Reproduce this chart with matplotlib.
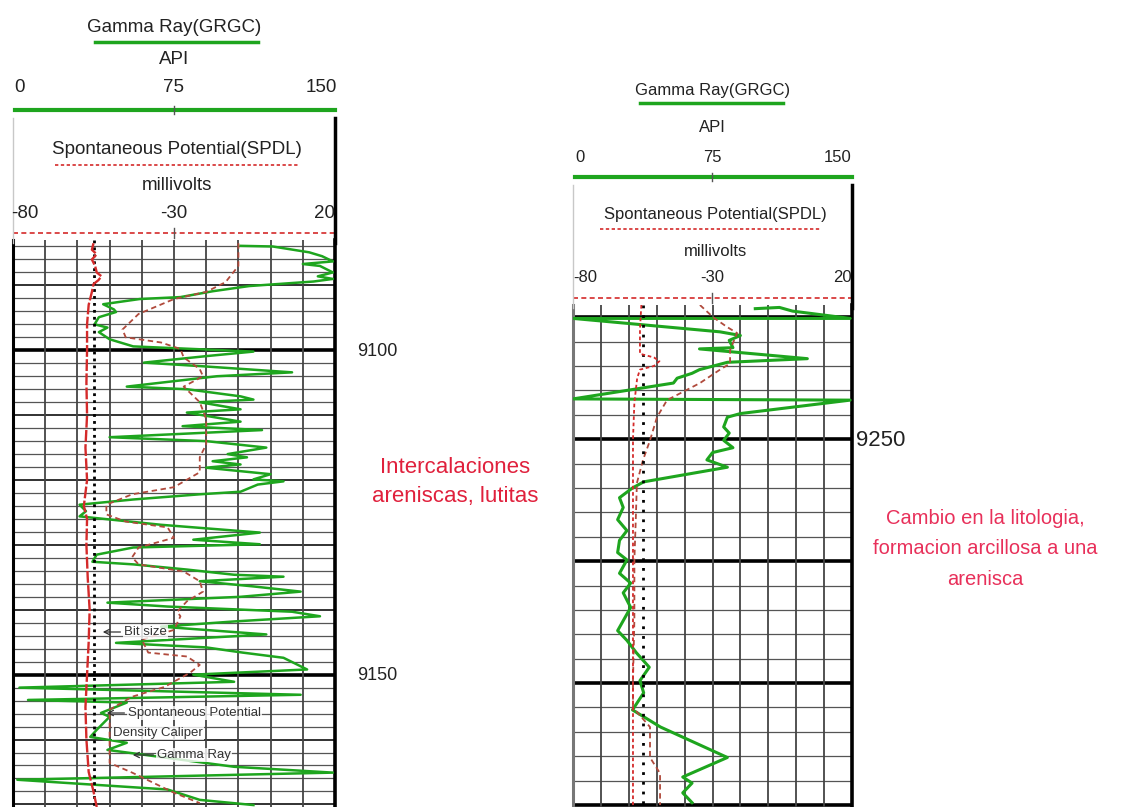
import matplotlib.pyplot as plt
import numpy as np

# ---------------- data read off the log ----------------
# left track, gamma ray (API) vs depth (ft)
gr_left_depth = [9083.9, 9084.0, 9084.9, 9085.5, 9086.3, 9086.7, 9087.0, 9088.0, 9088.6, 9089.0,
                 9089.4, 9090.1, 9090.9, 9091.8, 9092.1, 9092.9, 9093.7, 9094.1, 9094.9, 9096.0,
                 9096.5, 9097.2, 9098.3, 9099.4, 9100.2, 9100.9, 9101.9, 9102.5, 9103.4, 9104.0,
                 9105.6, 9106.0, 9107.1, 9107.6, 9108.0, 9109.1, 9109.6, 9111.0, 9111.7, 9112.3,
                 9113.4, 9114.0, 9115.0, 9116.0, 9116.5, 9117.1, 9117.6, 9118.1, 9119.1, 9119.9,
                 9120.2, 9120.7, 9121.8, 9122.2, 9123.0, 9123.8, 9124.8, 9125.6, 9126.9, 9128.1,
                 9129.2, 9129.9, 9130.4, 9131.5, 9132.6, 9133.0, 9133.8, 9134.6, 9134.9, 9135.6,
                 9136.4, 9137.2, 9138.0, 9138.9, 9139.5, 9140.3, 9141.0, 9141.8, 9142.6, 9143.8,
                 9145.1, 9145.8, 9146.6, 9147.4, 9149.2, 9150.0, 9151.1, 9152.0, 9153.1, 9153.9,
                 9154.3, 9155.9, 9156.5, 9158.5, 9159.6, 9160.5, 9161.6, 9164.2, 9165.1, 9166.2,
                 9167.7, 9169.3, 9170.1]
gr_left_api = [106, 121, 138, 144, 149, 135, 143, 149, 142, 149,
               140, 110, 93, 78, 59, 42, 47, 48, 40, 38,
               44, 40, 45, 56, 112, 90, 61, 90, 130, 95,
               53, 81, 106, 112, 87, 106, 81, 106, 79, 116,
               45, 90, 118, 100, 109, 93, 106, 90, 120, 112,
               126, 114, 106, 87, 56, 31, 34, 31, 69, 115,
               84, 115, 56, 39, 37, 56, 81, 103, 126, 87,
               112, 134, 106, 44, 72, 130, 143, 103, 69, 118,
               48, 90, 107, 126, 137, 84, 103, 3, 134, 7,
               53, 41, 45, 39, 36, 53, 44, 103, 149, 2,
               72, 87, 112]

# left track, spontaneous potential (mV)
sp_left_depth = [9083.5, 9087.0, 9089.5, 9091.0, 9092.1, 9094.4, 9096.8, 9098.0, 9098.8, 9099.8,
                 9101.1, 9102.9, 9104.0, 9105.6, 9108.0, 9110.6, 9114.5, 9116.5, 9118.8, 9121.1,
                 9122.2, 9123.8, 9125.3, 9126.4, 9127.3, 9128.9, 9130.4, 9131.9, 9133.0, 9134.1,
                 9135.6, 9137.2, 9138.7, 9140.3, 9141.0, 9143.1, 9144.6, 9146.6, 9147.2, 9148.5,
                 9149.7, 9151.9, 9153.4, 9155.4, 9158.0, 9161.6, 9163.6, 9165.1, 9168.2, 9169.8]
sp_left_mv = [-10, -10, -14, -20, -30, -41, -46, -45, -34, -28,
              -27, -22, -21, -27, -22, -20, -20, -22, -22, -30,
              -43, -51, -51, -45, -32, -30, -41, -43, -41, -27,
              -22, -21, -26, -29, -28, -30, -40, -38, -26, -22,
              -25, -33, -43, -50, -50, -50, -50, -43, -30, -22]

# left track, density caliper (in)
cal_left_depth = [9083.5, 9084.5, 9085.2, 9086.0, 9087.0, 9088.0, 9088.6, 9089.2, 9089.8, 9091.0,
                  9093.0, 9096.0, 9100.0, 9105.0, 9110.0, 9115.0, 9120.0, 9124.0, 9126.0, 9130.0,
                  9135.0, 9140.0, 9145.0, 9150.0, 9155.0, 9160.0, 9165.0, 9168.0, 9170.4]
cal_left_in = [8.5, 8.45, 8.6, 8.45, 8.55, 8.6, 8.75, 8.65, 8.5, 8.45,
               8.35, 8.3, 8.3, 8.28, 8.3, 8.25, 8.3, 8.2, 8.3, 8.28,
               8.32, 8.38, 8.35, 8.3, 8.25, 8.28, 8.35, 8.5, 8.6]

# right track, gamma ray (API)
gr_right_depth = [9239.3, 9239.2, 9239.5, 9240.1, 9240.1, 9241.2, 9241.5, 9241.9, 9242.5, 9242.6,
                  9243.4, 9243.7, 9244.3, 9244.6, 9245.0, 9245.4, 9246.7, 9246.8, 9247.9, 9248.2,
                  9249.0, 9249.5, 9250.1, 9250.7, 9251.1, 9251.7, 9252.3, 9253.5, 9254.0, 9254.8,
                  9255.6, 9256.6, 9257.5, 9258.3, 9259.3, 9259.9, 9261.0, 9261.8, 9262.6, 9263.8,
                  9265.7, 9266.5, 9267.5, 9268.7, 9269.8, 9270.8, 9272.2, 9273.6, 9276.1, 9277.7,
                  9278.2, 9279.0, 9279.8]
gr_right_api = [98, 111, 118, 149, 0, 79, 90, 84, 86, 68,
                126, 83, 68, 64, 56, 54, 0, 149, 90, 83,
                81, 84, 81, 86, 75, 72, 83, 38, 32, 25,
                27, 24, 29, 25, 24, 29, 25, 31, 27, 31,
                24, 29, 34, 41, 36, 38, 32, 47, 83, 59,
                64, 59, 64]

# right track, spontaneous potential (mV)
sp_right_depth = [9239.0, 9240.0, 9240.8, 9241.3, 9242.7, 9243.8, 9244.3, 9245.4, 9246.8, 9248.2,
                  9250.1, 9251.7, 9253.6, 9256.6, 9259.9, 9264.8, 9269.8, 9272.0, 9273.6, 9276.1,
                  9277.4, 9280.0]
sp_right_mv = [-34.5, -29.8, -24.8, -21.2, -23.7, -23.7, -27.3, -34.5, -46.3, -49.9,
               -52.4, -54.9, -57.1, -57.5, -58, -58, -58.5, -58.5, -52.4, -52.4,
               -48.8, -48.8]

# right track, density caliper (in)
cal_right_depth = [9239.0, 9241.0, 9243.0, 9243.3, 9243.6, 9244.0, 9244.3, 9245.0, 9247.0, 9250.0,
                   9260.0, 9270.0, 9280.0]
cal_right_in = [8.45, 8.4, 8.4, 8.9, 9.1, 8.9, 8.4, 8.3, 8.2, 8.15,
                8.15, 8.15, 8.15]

bit_size_in = 8.5

# ---------------- styling ----------------
W, H = 1122, 807
GREEN = '#1ea51e'
RED = '#d42a2a'
SPCOL = '#b04a3c'
TXT = '#222222'
SANS = ['Liberation Sans', 'DejaVu Sans']

fig = plt.figure(figsize=(W / 100, H / 100), dpi=100)


def rect(x0, y0, x1, y1):
    return [x0 / W, 1 - y1 / H, (x1 - x0) / W, (y1 - y0) / H]


def track(box, top, bottom, thick, left_col):
    ax = fig.add_axes(rect(*box))
    ax.set_xlim(0, 150)
    ax.set_ylim(bottom, top)
    ax.set_xticks([])
    ax.set_yticks([])
    ax.patch.set_alpha(0)
    for s in ['top', 'bottom']:
        ax.spines[s].set_visible(False)
    ax.spines['right'].set_linewidth(2.6)
    ax.spines['left'].set_linewidth(2.2)
    ax.spines['left'].set_color(left_col)
    for d in np.arange(np.ceil(top / 2) * 2, bottom + 0.01, 2):
        if d in thick:
            lw, c = 2.6, 'black'
        elif d % 10 == 0:
            lw, c = 1.3, '#222222'
        else:
            lw, c = 0.9, '#555555'
        ax.axhline(d, color=c, lw=lw, zorder=1)
    for v in range(15, 150, 15):
        ax.axvline(v, color='#444444', lw=1.3, zorder=1)
    sp = ax.twiny()
    sp.set_xlim(-80, 20)
    sp.axis('off')
    cal = ax.twiny()
    cal.set_xlim(6, 16)
    cal.axis('off')
    return ax, sp, cal


axL, spL, calL = track((13, 240, 335, 807), 9083.0, 9170.4, [9100, 9150], 'black')
axR, spR, calR = track((573, 305, 852, 807), 9239.0, 9280.16, [9240, 9250, 9260, 9270, 9280], '#777777')

calL.plot([bit_size_in, bit_size_in], [9083.0, 9170.4], color='black', lw=2, ls=(0, (1, 1.5)), zorder=3)
calL.plot(cal_left_in, cal_left_depth, color=RED, lw=1.7, ls=(0, (5, 1)), zorder=4)
spL.plot(sp_left_mv, sp_left_depth, color=SPCOL, lw=1.3, ls=(0, (3, 2)), zorder=4)
axL.plot(gr_left_api, gr_left_depth, color=GREEN, lw=1.8, zorder=5)

calR.plot([bit_size_in, bit_size_in], [9239.0, 9280.16], color='black', lw=2, ls=(0, (1, 2.5)), zorder=3)
calR.plot(cal_right_in, cal_right_depth, color=RED, lw=1.3, ls=(0, (2, 1.5)), zorder=4)
spR.plot(sp_right_mv, sp_right_depth, color=SPCOL, lw=1.3, ls=(0, (3, 2)), zorder=4)
axR.plot(gr_right_api, gr_right_depth, color=GREEN, lw=2.2, zorder=5)

# overlay in pixel units for headers and notes, drawn on top of the tracks
ov = fig.add_axes([0, 0, 1, 1])
ov.set_xlim(0, W)
ov.set_ylim(H, 0)
ov.axis('off')


def header(x0, x1, ys, title_span, sp_span, fs):
    cx = (x0 + x1) / 2
    yt, yl, yapi, ysc, ygr, ysp, ydot, ymv, yscl, yred = ys
    kw = dict(ha='center', va='center', fontsize=fs, color=TXT, family=SANS)
    ov.text(cx, yt, 'Gamma Ray(GRGC)', **kw)
    ov.plot(title_span, [yl, yl], color=GREEN, lw=2.5)
    ov.text(cx, yapi, 'API', **kw)
    ov.text(x0 + 7, ysc, '0', **kw)
    ov.text(cx, ysc, '75', **kw)
    ov.text(x1 - 14, ysc, '150', **kw)
    ov.plot([x0 + 2, x1], [ygr, ygr], color=GREEN, lw=3)
    ov.plot([cx, cx], [ygr - 4, ygr + 4], color='#555555', lw=1)
    ov.text(cx + 3, ysp, 'Spontaneous Potential(SPDL)', **kw)
    ov.plot(sp_span, [ydot, ydot], color=RED, lw=1.2, ls=(0, (2, 1.5)))
    ov.text(cx + 3, ymv, 'millivolts', **kw)
    ov.text(x0 + 12, yscl, '-80', **kw)
    ov.text(cx, yscl, '-30', **kw)
    ov.text(x1 - 10, yscl, '20', **kw)
    ov.plot([x0, x1], [yred, yred], color=RED, lw=1.2, ls=(0, (3, 2)))
    ov.plot([cx, cx], [yred - 5, yred + 5], color='#555555', lw=1)
    # border lines running up into the header
    ov.plot([x1, x1], [ygr + 8, yred + 10], color='black', lw=2.5)
    ov.plot([x0, x0], [ygr + 8, yred + 10], color='#c8c8c8', lw=1)


header(13, 335, [28, 42, 60, 88, 110, 150, 165, 186, 213, 233], [95, 258], [55, 300], 13.5)
header(573, 852, [90, 103, 128, 157, 177, 214, 229, 252, 278, 298], [640, 783], [600, 820], 12)

# curve name tags in the left track
box = dict(facecolor='white', edgecolor='none', alpha=0.8, pad=0.6)
tag = dict(fontsize=9.5, color='#333333', va='center', ha='left', family=SANS, bbox=box)
arrow = dict(arrowstyle='->', color='#333333', lw=0.9)
ov.annotate('Bit size', xy=(100, 632), xytext=(124, 632), arrowprops=arrow, **tag)
ov.annotate('Spontaneous Potential', xy=(104, 713), xytext=(128, 713), arrowprops=arrow, **tag)
ov.text(113, 733, 'Density Caliper', **tag)
ov.annotate('Gamma Ray', xy=(130, 755), xytext=(157, 755), arrowprops=arrow, **tag)

# depth labels
ov.text(357, 352, '9100', fontsize=13, color=TXT, va='center', ha='left', family=SANS)
ov.text(357, 675, '9150', fontsize=13, color=TXT, va='center', ha='left', family=SANS)
ov.text(856, 440, '9250', fontsize=16, color=TXT, va='center', ha='left', family=SANS)

# interpretation notes
ov.text(455, 482, 'Intercalaciones\nareniscas, lutitas', fontsize=16, color='#e0203c',
        ha='center', va='center', linespacing=1.55, family=SANS)
ov.text(985, 549, 'Cambio en la litologia,\nformacion arcillosa a una\narenisca', fontsize=14.5,
        color='#e8305a', ha='center', va='center', linespacing=1.75, family=SANS)

fig.savefig('out.png', dpi=100)
